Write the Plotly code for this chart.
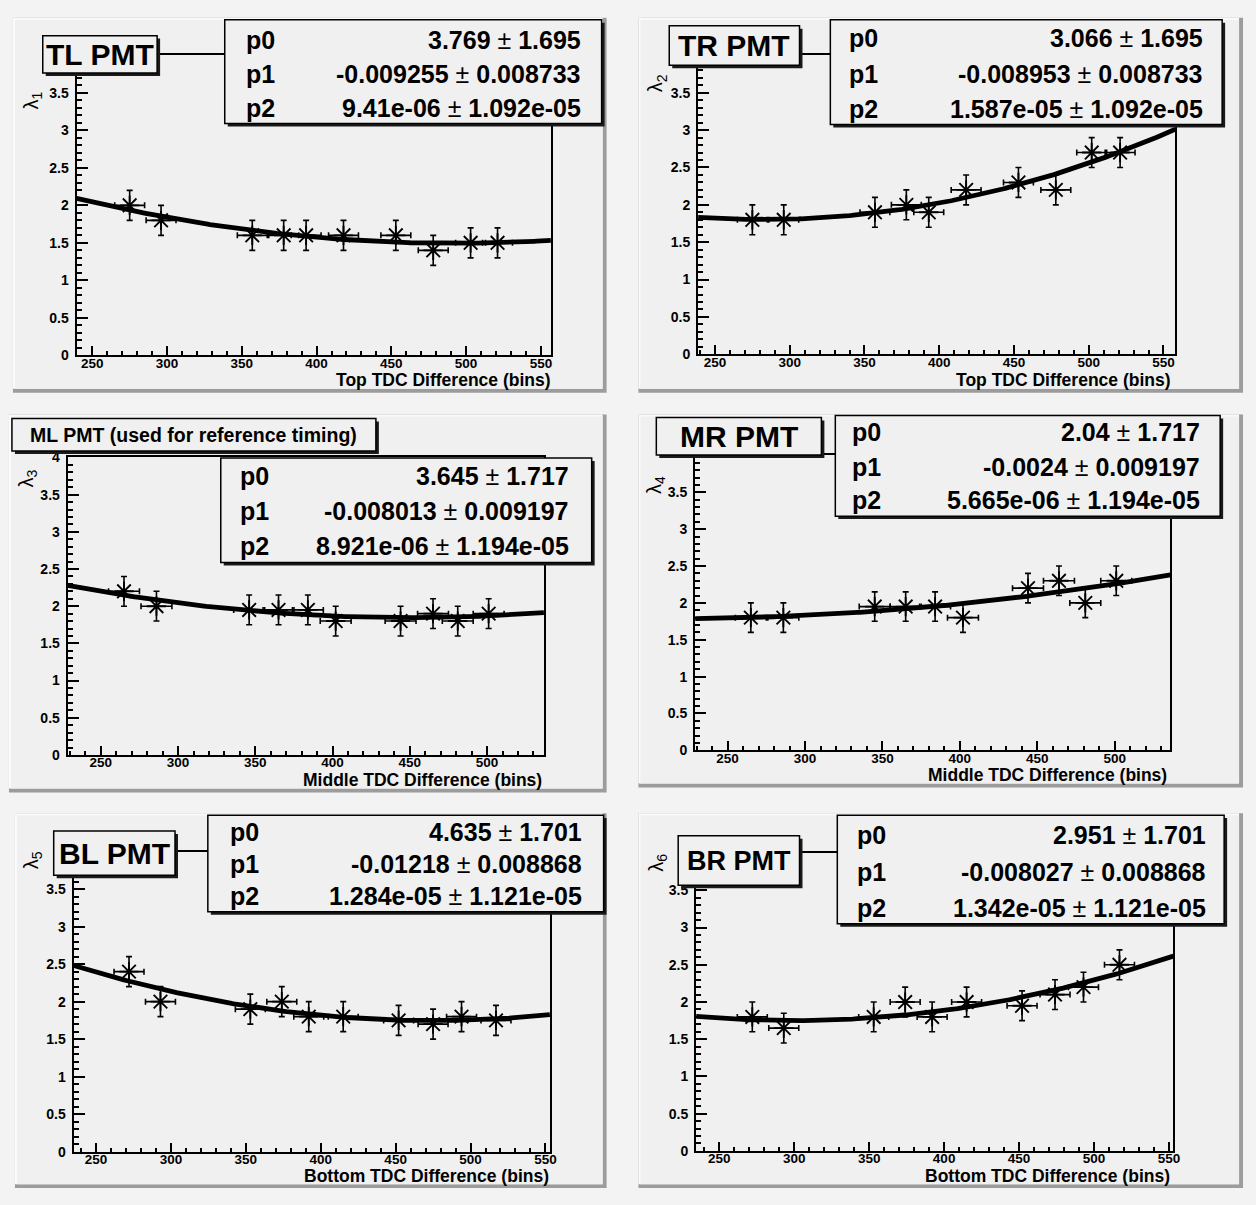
import numpy as np
import plotly.graph_objects as go

W, H = 1256, 1205
FONT = "Liberation Sans, Arial, Helvetica, sans-serif"
PAD_BG = "#f0f0f0"

# ---- measured lambda vs TDC difference, one set per PMT ----
tl_x = [275, 296, 357, 378, 393, 418, 453, 478, 503, 521]
tl_y = [2.0, 1.8, 1.6, 1.6, 1.6, 1.6, 1.6, 1.4, 1.5, 1.5]
tl_par = [3.769, -0.009255, 9.41e-06]
tl_perr = [1.695, 0.008733, 1.092e-05]

tr_x = [275, 296, 357, 378, 393, 418, 453, 478, 502, 521]
tr_y = [1.8, 1.8, 1.9, 2.0, 1.9, 2.2, 2.3, 2.2, 2.7, 2.7]
tr_par = [3.066, -0.008953, 1.587e-05]
tr_perr = [1.695, 0.008733, 1.092e-05]

ml_x = [265, 286, 346, 365, 384, 402, 444, 465, 481, 501]
ml_y = [2.2, 2.0, 1.95, 1.95, 1.95, 1.8, 1.8, 1.9, 1.8, 1.9]
ml_par = [3.645, -0.008013, 8.921e-06]
ml_perr = [1.717, 0.009197, 1.194e-05]

mr_x = [265, 286, 345, 365, 384, 402, 444, 464, 481, 501]
mr_y = [1.8, 1.8, 1.95, 1.95, 1.95, 1.8, 2.2, 2.3, 2.0, 2.3]
mr_par = [2.04, -0.0024, 5.665e-06]
mr_perr = [1.717, 0.009197, 1.194e-05]

bl_x = [272, 293, 353, 374, 392, 415, 452, 475, 494, 517]
bl_y = [2.4, 2.0, 1.9, 2.0, 1.8, 1.8, 1.75, 1.7, 1.8, 1.75]
bl_par = [4.635, -0.01218, 1.284e-05]
bl_perr = [1.701, 0.008868, 1.121e-05]

br_x = [272, 293, 353, 374, 392, 415, 452, 474, 493, 517]
br_y = [1.8, 1.65, 1.8, 2.0, 1.8, 2.0, 1.95, 2.1, 2.2, 2.5]
br_par = [2.951, -0.008027, 1.342e-05]
br_perr = [1.701, 0.008868, 1.121e-05]

# half bin width on x, uncertainty on lambda
x_half_width = 10
lambda_err = 0.2

par_names = ["p0", "p1", "p2"]
y_tick_vals = [0, 0.5, 1, 1.5, 2, 2.5, 3, 3.5, 4]
y_tick_text = ["0", "0.5", "1", "1.5", "2", "2.5", "3", "3.5", "4"]
x_ticks_dtick = 50

# ---- pad layout (pixels) ----
# top_label: whether the "4" label at the top of the lambda axis is left uncovered
panels = [
    dict(x=tl_x, y=tl_y, par=tl_par, perr=tl_perr, tag="TL PMT", tag_size=30,
         ylab="λ<sub>1</sub>", xlab="Top TDC Difference (bins)", xr=(239.5, 556.7),
         frame=(77, 554, 48, 352), pad=(13, 610, 10, 390), top_label=False,
         tagbox=(43, 158, 28, 66), stats=(226, 605, 12, 117), lab_x=245, val_x=586,
         rows=(32, 67, 101), ytitle=(33, 94), xtitle=(555, 377)),
    dict(x=tr_x, y=tr_y, par=tr_par, perr=tr_perr, tag="TR PMT", tag_size=30,
         ylab="λ<sub>2</sub>", xlab="Top TDC Difference (bins)", xr=(238.7, 558),
         frame=(702, 1182, 48, 351), pad=(642, 1250, 10, 390), top_label=False,
         tagbox=(673, 804, 18, 58), stats=(835, 1229, 12, 118), lab_x=852, val_x=1212,
         rows=(30, 67, 102), ytitle=(661, 76), xtitle=(1179, 377)),
    dict(x=ml_x, y=ml_y, par=ml_par, perr=ml_perr, tag="ML PMT (used for reference timing)",
         tag_size=19.5, ylab="λ<sub>3</sub>", xlab="Middle TDC Difference (bins)",
         xr=(228.5, 536.8), frame=(68, 547, 455.5, 757), pad=(9, 610, 412, 795), top_label=True,
         tagbox=(12, 378, 416, 449), stats=(222, 595, 456, 562), lab_x=239, val_x=574,
         rows=(474, 510, 545), ytitle=(28, 477), xtitle=(546, 782)),
    dict(x=mr_x, y=mr_y, par=mr_par, perr=mr_perr, tag="MR PMT", tag_size=30,
         ylab="λ<sub>4</sub>", xlab="Middle TDC Difference (bins)", xr=(229, 536),
         frame=(699, 1177, 453.5, 752.3), pad=(642, 1250, 412, 790), top_label=False,
         tagbox=(660, 826, 415, 453), stats=(840, 1227, 413, 515), lab_x=855, val_x=1209,
         rows=(430, 465, 499), ytitle=(659, 483), xtitle=(1175, 777)),
    dict(x=bl_x, y=bl_y, par=bl_par, perr=bl_perr, tag="BL PMT", tag_size=30,
         ylab="λ<sub>5</sub>", xlab="Bottom TDC Difference (bins)", xr=(235, 553),
         frame=(74, 553, 855, 1159), pad=(15, 610, 816, 1196), top_label=False,
         tagbox=(54, 176, 834, 879), stats=(209, 607, 818, 916), lab_x=229, val_x=587,
         rows=(835, 868, 900), ytitle=(33, 864), xtitle=(553, 1184)),
    dict(x=br_x, y=br_y, par=br_par, perr=br_perr, tag="BR PMT", tag_size=27,
         ylab="λ<sub>6</sub>", xlab="Bottom TDC Difference (bins)", xr=(234.5, 553),
         frame=(700, 1180, 856.5, 1158.3), pad=(642, 1250, 816, 1196), top_label=False,
         tagbox=(682, 804, 839, 889), stats=(842, 1231, 818, 928), lab_x=860, val_x=1215,
         rows=(838, 876, 912), ytitle=(661, 866), xtitle=(1178, 1184)),
]


def fx(p):
    return p / W


def fy(p):
    return 1 - p / H


def rect(x0, y0, x1, y1, fill, line_color=None, line_width=0, layer="above"):
    return dict(type="rect", xref="paper", yref="paper",
                x0=fx(x0), x1=fx(x1), y0=fy(y1), y1=fy(y0),
                fillcolor=fill, layer=layer,
                line=dict(color=line_color or fill, width=line_width))


fig = go.Figure()
shapes = []
annotations = []
SH = 3  # drop-shadow offset of the text boxes

for i, p in enumerate(panels):
    n = "" if i == 0 else str(i + 1)
    xa, ya = "x" + n, "y" + n

    # pad with bevelled border
    L, R, T, B = p["pad"]
    shapes.append(rect(L, T, R, B, "#9c9c9c", layer="below"))
    shapes.append(rect(L, T, R - 4, B - 4, "#fbfbfb", layer="below"))
    shapes.append(rect(L + 2, T + 2, R - 4, B - 4, PAD_BG, layer="below"))

    # data points with error bars
    fig.add_trace(go.Scatter(
        x=p["x"], y=p["y"], mode="markers", xaxis=xa, yaxis=ya, showlegend=False,
        marker=dict(symbol="asterisk-open", size=16, color="black",
                    line=dict(color="black", width=1.9)),
        error_x=dict(type="constant", value=x_half_width, color="black", thickness=1.6, width=3),
        error_y=dict(type="constant", value=lambda_err, color="black", thickness=1.6, width=3),
    ))

    # fitted parabola p0 + p1*x + p2*x^2 over the axis range
    xs = np.linspace(p["xr"][0], p["xr"][1], 200)
    p0, p1, p2 = p["par"]
    fig.add_trace(go.Scatter(
        x=xs, y=p0 + p1 * xs + p2 * xs ** 2, mode="lines", xaxis=xa, yaxis=ya,
        showlegend=False, line=dict(color="black", width=4.8)))

    fl, fr, ft, fb = p["frame"]
    xfont = dict(family=FONT, size=13.5, color="black", weight="bold")
    yfont = dict(family=FONT, size=14, color="black", weight="bold")
    # the top label sits under the PMT tag box in most pads, so it is left out there
    nlab = len(y_tick_vals) if p["top_label"] else len(y_tick_vals) - 1
    fig.layout["xaxis" + n] = dict(
        domain=[fx(fl), fx(fr)], range=list(p["xr"]), anchor=ya,
        showline=True, mirror=True, linecolor="black", linewidth=2,
        ticks="inside", ticklen=9, tickwidth=2, tickcolor="black",
        tick0=0, dtick=x_ticks_dtick, tickfont=xfont, ticklabelstandoff=-6,
        minor=dict(ticks="inside", dtick=10, tick0=0, ticklen=4, tickwidth=2,
                   tickcolor="black", showgrid=False),
        showgrid=False, zeroline=False, fixedrange=True)
    fig.layout["yaxis" + n] = dict(
        domain=[fy(fb), fy(ft)], range=[0, 4], anchor=xa,
        showline=True, mirror=True, linecolor="black", linewidth=2,
        ticks="inside", ticklen=11, tickwidth=2, tickcolor="black",
        tickmode="array", tickvals=y_tick_vals[:nlab], ticktext=y_tick_text[:nlab],
        tickfont=yfont, ticklabelstandoff=3,
        minor=dict(ticks="inside", dtick=0.1, tick0=0, ticklen=5, tickwidth=2,
                   tickcolor="black", showgrid=False),
        showgrid=False, zeroline=False, fixedrange=True)

    # axis titles
    annotations.append(dict(xref="paper", yref="paper", x=fx(p["xtitle"][0]), y=fy(p["xtitle"][1]),
                            xanchor="right", yanchor="middle", showarrow=False, borderpad=0,
                            text="<b>" + p["xlab"] + "</b>",
                            font=dict(family=FONT, size=17.5, color="black")))
    annotations.append(dict(xref="paper", yref="paper", x=fx(p["ytitle"][0]), y=fy(p["ytitle"][1]),
                            xanchor="center", yanchor="middle", showarrow=False, textangle=-90,
                            text=p["ylab"], font=dict(family=FONT, size=20, color="black")))

    # PMT tag box
    x0, x1, y0, y1 = p["tagbox"]
    shapes.append(rect(x0 + SH, y0 + SH, x1 + SH, y1 + SH, "#1a1a1a"))
    shapes.append(rect(x0, y0, x1, y1, PAD_BG, "black", 1.5))
    annotations.append(dict(xref="paper", yref="paper", x=fx((x0 + x1) / 2), y=fy((y0 + y1) / 2),
                            xanchor="center", yanchor="middle", showarrow=False,
                            text="<b>" + p["tag"] + "</b>",
                            font=dict(family=FONT, size=p["tag_size"], color="black")))

    # fit-parameter box
    x0, x1, y0, y1 = p["stats"]
    shapes.append(rect(x0 + SH, y0 + SH, x1 + SH, y1 + SH, "#1a1a1a"))
    shapes.append(rect(x0, y0, x1, y1, PAD_BG, "black", 1.5))
    for name, val, err, row in zip(par_names, p["par"], p["perr"], p["rows"]):
        annotations.append(dict(xref="paper", yref="paper", x=fx(p["lab_x"]), y=fy(row),
                                xanchor="left", yanchor="middle", showarrow=False,
                                text="<b>" + name + "</b>",
                                font=dict(family=FONT, size=25, color="black")))
        annotations.append(dict(xref="paper", yref="paper", x=fx(p["val_x"]), y=fy(row),
                                xanchor="right", yanchor="middle", showarrow=False,
                                text="<b>{:.4g}</b> ± <b>{:.4g}</b>".format(val, err),
                                font=dict(family=FONT, size=25, color="black")))

fig.update_layout(
    width=W, height=H, margin=dict(l=0, r=0, t=0, b=0),
    paper_bgcolor="#f3f3f3", plot_bgcolor="rgba(0,0,0,0)",
    shapes=shapes, annotations=annotations, showlegend=False,
)

fig.write_html("out.html", config={"displayModeBar": False})
